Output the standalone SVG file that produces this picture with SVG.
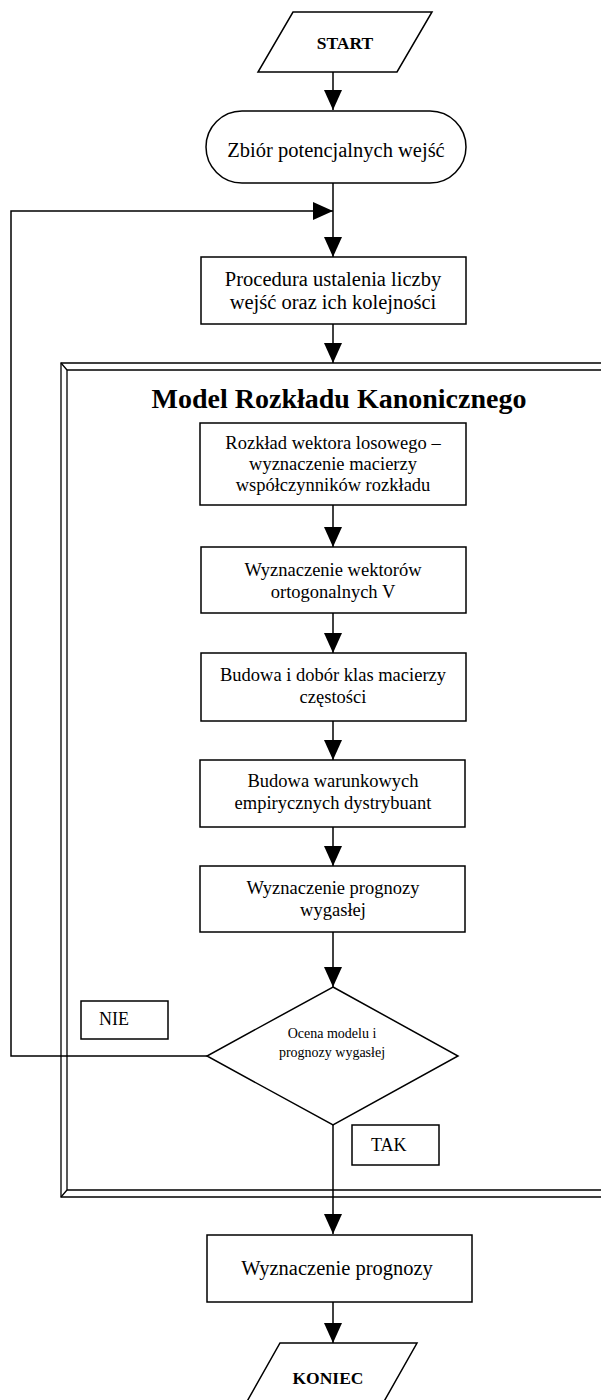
<svg xmlns="http://www.w3.org/2000/svg" width="601" height="1400" viewBox="0 0 601 1400">
<defs>
<style>
.s{fill:#fff;stroke:#000;stroke-width:1.5}
.c{fill:none;stroke:#000;stroke-width:1.5}
.f{fill:none;stroke:#000;stroke-width:1.3}
text{font-family:"Liberation Serif","Times New Roman",serif;fill:#000}
.t{font-size:18.5px;text-anchor:middle}
.tb{font-size:20.5px;text-anchor:middle}
.b{font-size:17.5px;font-weight:bold;text-anchor:middle}
.d{font-size:14px;text-anchor:middle}
.l{font-size:18px}
</style>
<marker id="a" viewBox="0 0 20 18" refX="20" refY="9" markerWidth="20" markerHeight="18" markerUnits="userSpaceOnUse" orient="auto">
<path d="M0,0 L20,9 L0,18 z" fill="#000"/>
</marker>
</defs>
<rect width="601" height="1400" fill="#fff"/>
<g id="frame">
<path class="f" d="M601,363 H61 V1197 H601"/>
<path class="f" d="M601,370 H67 V1190 H601"/>
<path class="f" d="M61,363 L67,370 M61,1197 L67,1190"/>
<text x="339" y="408" style="font-size:28px;font-weight:bold;text-anchor:middle">Model Rozkładu Kanonicznego</text>
</g>
<g id="connectors">
<path class="c" d="M333,72 V110" marker-end="url(#a)"/>
<path class="c" d="M333,183 V257" marker-end="url(#a)"/>
<path class="c" d="M207,1056 H11 V211 H333" marker-end="url(#a)"/>
<path class="c" d="M333,324 V363" marker-end="url(#a)"/>
<path class="c" d="M333,505 V547" marker-end="url(#a)"/>
<path class="c" d="M333,613 V653" marker-end="url(#a)"/>
<path class="c" d="M333,721 V760" marker-end="url(#a)"/>
<path class="c" d="M333,827 V866" marker-end="url(#a)"/>
<path class="c" d="M333,932 V987" marker-end="url(#a)"/>
<path class="c" d="M333,1125 V1234" marker-end="url(#a)"/>
<path class="c" d="M333,1302 V1343" marker-end="url(#a)"/>
</g>
<g id="start">
<polygon class="s" points="293,12 432,12 397,72 258,72"/>
<text class="b" x="345" y="49">START</text>
</g>
<g id="zbior">
<rect class="s" x="206" y="111" width="260" height="72" rx="36" ry="36"/>
<text class="tb" x="336" y="157">Zbiór potencjalnych wejść</text>
</g>
<g id="procedura">
<rect class="s" x="201" y="257" width="265" height="67"/>
<text class="tb" x="333" y="286">Procedura ustalenia liczby</text>
<text class="tb" x="333" y="309">wejść oraz ich kolejności</text>
</g>
<g id="rozklad">
<rect class="s" x="200" y="423" width="266" height="82"/>
<text class="t" x="333" y="449">Rozkład wektora losowego –</text>
<text class="t" x="333" y="470">wyznaczenie macierzy</text>
<text class="t" x="333" y="491">współczynników rozkładu</text>
</g>
<g id="wektory">
<rect class="s" x="201" y="547" width="265" height="66"/>
<text class="t" x="333" y="576">Wyznaczenie wektorów</text>
<text class="t" x="333" y="598">ortogonalnych V</text>
</g>
<g id="klasy">
<rect class="s" x="201" y="653" width="265" height="68"/>
<text class="t" x="333" y="681">Budowa i dobór klas macierzy</text>
<text class="t" x="333" y="703">częstości</text>
</g>
<g id="dystrybuanty">
<rect class="s" x="200" y="760" width="265" height="67"/>
<text class="t" x="333" y="787">Budowa warunkowych</text>
<text class="t" x="333" y="809">empirycznych dystrybuant</text>
</g>
<g id="prognoza-wygasla">
<rect class="s" x="200" y="866" width="265" height="66"/>
<text class="t" x="333" y="894">Wyznaczenie prognozy</text>
<text class="t" x="333" y="916">wygasłej</text>
</g>
<g id="ocena">
<polygon class="s" points="333,987 458,1056 333,1125 207,1056"/>
<text class="d" x="332" y="1038">Ocena modelu i</text>
<text class="d" x="332" y="1057">prognozy wygasłej</text>
</g>
<g id="nie">
<rect class="s" x="81" y="1001" width="87" height="38"/>
<text class="l" x="99" y="1025">NIE</text>
</g>
<g id="tak">
<rect class="s" x="352" y="1125" width="87" height="40"/>
<text class="l" x="371" y="1151">TAK</text>
</g>
<g id="prognoza">
<rect class="s" x="207" y="1235" width="265" height="67"/>
<text class="tb" x="337" y="1275">Wyznaczenie prognozy</text>
</g>
<g id="koniec">
<polygon class="s" points="280,1343 417,1343 382,1405 245,1405"/>
<text class="b" x="328" y="1384">KONIEC</text>
</g>
</svg>
